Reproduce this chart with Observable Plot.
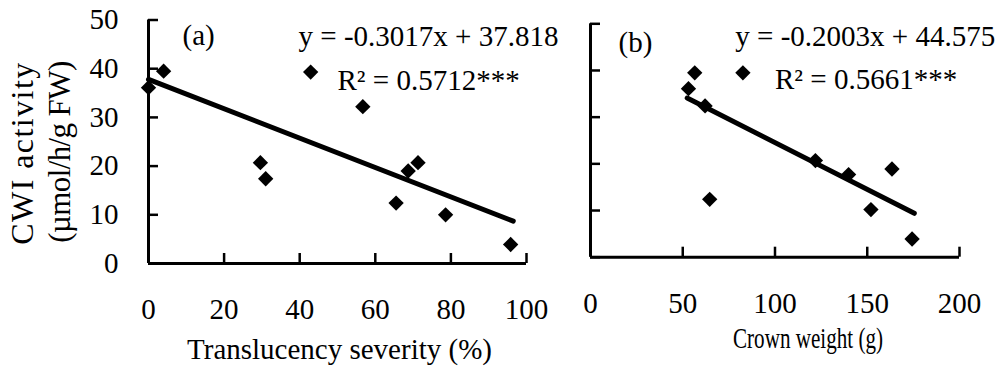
<!DOCTYPE html>
<html>
<head>
<meta charset="utf-8">
<script src="https://cdn.jsdelivr.net/npm/d3@7"></script>
<script src="https://cdn.jsdelivr.net/npm/@observablehq/plot@0.6"></script>
<style>
  html, body { margin: 0; padding: 0; background: #fff; }
  #wrap { position: relative; width: 1008px; height: 374px; overflow: hidden; }
  #wrap svg { position: absolute; top: 0; overflow: visible; }
  #wrap svg, #wrap svg text { font-family: "Liberation Serif", "Times New Roman", serif !important; }
</style>
</head>
<body>
<div id="wrap"></div>
<script>
// ---- data ----
const severity = [0, 4, 29.6, 31, 42.9, 56.7, 65.5, 68.7, 71.3, 78.6, 95.8];
const cwiA     = [36.1, 39.5, 20.7, 17.4, 39.3, 32.2, 12.4, 19.0, 20.7, 10.0, 3.9];
const crown    = [53.1, 56.5, 62.1, 64.6, 82.6, 121.9, 139.9, 152.0, 163.4, 174.3];
const cwiB     = [36.1, 39.5, 32.4, 12.4, 39.5, 20.7, 17.7, 10.2, 18.9, 3.9];
const fitAx = [0, 96.5],  fitAy = [37.8, 8.7];
const fitBx = [52.4, 175.5], fitBy = [34.1, 9.4];
const yTicks = [0, 10, 20, 30, 40, 50];
const xTicksA = [0, 20, 40, 60, 80, 100];
const xTicksB = [0, 50, 100, 150, 200];
const yTitle = ["CWI activity", "(µmol/h/g FW)"];
const xTitleA = "Translucency severity (%)";
const xTitleB = "Crown weight (g)";
const labelA = "(a)", eqA = "y = -0.3017x + 37.818", r2A = "R² = 0.5712***";
const labelB = "(b)", eqB = "y = -0.2003x + 44.575", r2B = "R² = 0.5661***";

const ptsA = severity.map((x, i) => ({x, y: cwiA[i]}));
const ptsB = crown.map((x, i) => ({x, y: cwiB[i]}));
const lineA = fitAx.map((x, i) => ({x, y: fitAy[i]}));
const lineB = fitBx.map((x, i) => ({x, y: fitBy[i]}));

const style = "font-family: 'Liberation Serif', serif; font-size: 29px; color: #000; background: transparent; overflow: visible;";

const left = Plot.plot({
  width: 560, height: 374,
  marginLeft: 148, marginRight: 34, marginTop: 19.5, marginBottom: 111,
  style,
  x: {domain: [0, 100], label: null},
  y: {domain: [0, 50], label: null},
  marks: [
    Plot.axisY(yTicks, {tickSize: -10, tickPadding: 40, strokeWidth: 2.5, fontSize: 29, label: null}),
    Plot.axisX(xTicksA, {tickSize: -10, tickPadding: 45, strokeWidth: 2.5, fontSize: 29, label: null}),
    Plot.ruleX([0], {strokeWidth: 3}),
    Plot.ruleY([0], {strokeWidth: 3}),
    Plot.line(lineA, {x: "x", y: "y", strokeWidth: 5}),
    Plot.dot(ptsA, {x: "x", y: "y", symbol: "diamond2", r: 6.9, fill: "#000"}),
    Plot.text([labelA], {x: 9, y: 46.8, text: d => d, textAnchor: "start", fontSize: 29}),
    Plot.text([eqA], {x: 39.7, y: 46.5, text: d => d, textAnchor: "start", fontSize: 29}),
    Plot.text([r2A], {x: 50, y: 37.5, text: d => d, textAnchor: "start", fontSize: 29}),
    Plot.text([yTitle[0]], {frameAnchor: "left", textAnchor: "middle", rotate: -90, dx: -126, dy: 12, fontSize: 32, text: d => d}),
    Plot.text([yTitle[1]], {frameAnchor: "left", textAnchor: "middle", rotate: -90, dx: -88, dy: 10, fontSize: 31, text: d => d}),
    Plot.text([xTitleA], {frameAnchor: "bottom", dx: 2, dy: 95, fontSize: 29, text: d => d})
  ]
});
left.style.left = "0px";

const right = Plot.plot({
  width: 448, height: 374,
  marginLeft: 30, marginRight: 49, marginTop: 23.3, marginBottom: 117.3,
  style,
  x: {domain: [0, 200], label: null},
  y: {domain: [0, 50], label: null},
  marks: [
    Plot.axisY(yTicks, {tickSize: -10, tickFormat: () => "", strokeWidth: 2.5, label: null}),
    Plot.axisX(xTicksB, {tickSize: -10, tickPadding: 45, strokeWidth: 2.5, fontSize: 29, label: null}),
    Plot.ruleX([0], {strokeWidth: 3}),
    Plot.ruleY([0], {strokeWidth: 3}),
    Plot.line(lineB, {x: "x", y: "y", strokeWidth: 5}),
    Plot.dot(ptsB, {x: "x", y: "y", symbol: "diamond2", r: 6.9, fill: "#000"}),
    Plot.text([labelB], {x: 15.2, y: 46.0, text: d => d, textAnchor: "start", fontSize: 29}),
    Plot.text([eqB], {x: 78.5, y: 47.3, text: d => d, textAnchor: "start", fontSize: 29}),
    Plot.text([r2B], {x: 100, y: 38.0, text: d => d, textAnchor: "start", fontSize: 29}),
    Plot.text([xTitleB], {frameAnchor: "bottom", dx: 33, dy: 91, fontSize: 29, text: d => d})
  ]
});
right.style.left = "560px";

// stretch the two y-title lines to the reference's length
d3.select(left).selectAll("text")
  .filter(function() { return this.textContent === yTitle[0] || this.textContent === yTitle[1]; })
  .attr("textLength", 182)
  .attr("lengthAdjust", "spacing");
d3.select(right).selectAll("text")
  .filter(function() { return this.textContent === xTitleB; })
  .attr("textLength", 150)
  .attr("lengthAdjust", "spacingAndGlyphs");

const wrap = document.getElementById("wrap");
wrap.appendChild(left);
wrap.appendChild(right);
</script>
</body>
</html>
